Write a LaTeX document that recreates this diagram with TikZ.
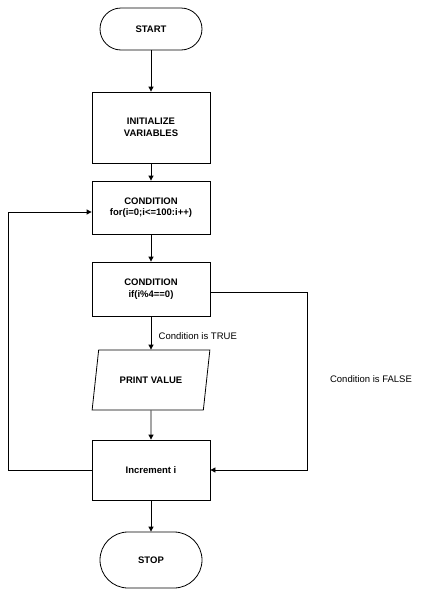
\documentclass[tikz,border=0pt]{standalone}
\usepackage{fontspec}
\setmainfont{Liberation Sans}
\usetikzlibrary{shapes.geometric,arrows.meta}
\begin{document}
\begin{tikzpicture}[x=1pt,y=-1pt,
  box/.style={draw,thick,minimum width=118pt,align=center,font=\bfseries\fontsize{9.5}{11.5}\selectfont},
  term/.style={draw,thick,rounded corners=21pt,minimum width=102pt,font=\bfseries\fontsize{9.5}{11.5}\selectfont},
  arr/.style={-{Triangle[length=5pt,width=5pt]},thick},
  lbl/.style={font=\fontsize{9.5}{11.5}\selectfont}]
\useasboundingbox (0,0) rectangle (438,592);
\node[term,minimum height=42pt] (start) at (151,29) {START};
\node[box,minimum height=71pt] (init) at (151,127.5) {INITIALIZE\\VARIABLES};
\node[box,minimum height=53pt] (c1) at (151,207.5) {CONDITION\\for(i=0;i<=100:i++)};
\node[box,minimum height=54pt] (c2) at (151,289) {CONDITION\\if(i\%4==0)};
\node[draw,thick,trapezium,trapezium left angle=72,trapezium right angle=108,minimum width=118pt,minimum height=60pt,trapezium stretches=true,font=\bfseries\fontsize{9.5}{11.5}\selectfont] (pv) at (151,380) {PRINT VALUE};
\node[box,minimum height=60pt] (inc) at (151,470) {Increment i};
\node[term,minimum height=56pt,rounded corners=28pt] (stop) at (151,560) {STOP};
\coordinate (l1) at (8,470); \coordinate (l2) at (8,212);
\coordinate (r1) at (307,292); \coordinate (r2) at (307,470);
\draw[arr] (start) -- (init);
\draw[arr] (init) -- (c1);
\draw[arr] (c1) -- (c2);
\draw[arr] (c2) -- node[lbl,right,xshift=4pt,pos=0.6]{Condition is TRUE} (pv);
\draw[arr] (pv) -- (inc);
\draw[arr] (inc) -- (stop);
\draw[arr] (inc.west) -- (l1) -- (l2) -- (l2 -| c1.west);
\draw[arr] (c2.east |- r1) -- (r1) -- (r2) -- (inc.east);
\node[lbl] (fl) at (371,379) {Condition is FALSE};
\end{tikzpicture}
\end{document}
